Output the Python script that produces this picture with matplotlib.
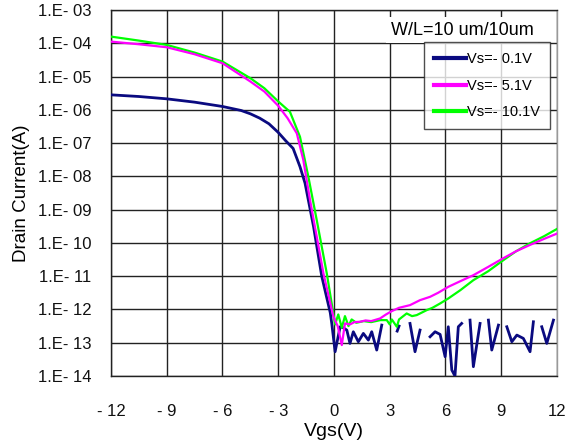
import numpy as np
import matplotlib
matplotlib.use("Agg")
import matplotlib.pyplot as plt
from matplotlib.lines import Line2D

plt.rcParams['font.family'] = ['Liberation Sans', 'DejaVu Sans']

nan = np.nan
# Vs = -0.1 V (log10 of drain current)
vgs_01 = [-12, -10.5, -9, -7.5, -6, -5, -4.5, -4, -3.5, -3, -2.6, -2.2, -1.83, -1.56, -1.1, -0.66, -0.2,
          -0.12, 0.06, 0.33, 0.50, 0.69, 0.86, 1.04, 1.31, 1.58, 1.85, 2.03, 2.30, 2.57, nan,
          3.40, 3.50, nan, 4.09, 4.36, 4.63, nan, 5.17, 5.44, 5.71, 5.98, 6.15, 6.34, 6.51, 6.69, 6.87, nan,
          7.32, 7.50, 7.86, nan, 8.31, 8.49, 8.85, nan, 9.30, 9.57, 9.84, 10.19, 10.55, 10.73, nan,
          11.18, 11.45, 11.81]
log_01 = [-5.55, -5.60, -5.67, -5.77, -5.90, -6.02, -6.12, -6.25, -6.42, -6.68, -6.93, -7.16, -7.71, -8.2, -9.51, -11.0, -12.1,
          -12.42, -13.27, -12.52, -12.55, -12.62, -13.02, -12.67, -12.97, -12.72, -12.92, -12.67, -13.22, -12.47, nan,
          -12.65, -12.50, nan, -12.42, -13.27, -12.62, nan, -12.82, -12.67, -12.75, -13.42, -12.52, -13.82, -14.0, -12.52, -12.42, nan,
          -12.32, -13.72, -12.42, nan, -12.32, -13.22, -12.47, nan, -12.52, -12.97, -12.77, -12.87, -13.27, -12.37, nan,
          -12.52, -13.02, -12.32]

# Vs = -5.1 V
vgs_51 = [-12, -10.5, -9, -7.5, -6, -4.5, -3.75, -3, -2.5, -2.0, -1.65, -1.29, -0.93, -0.57, -0.03,
          0.20, 0.42, 0.59, 0.86, 1.1, 1.40, 1.7, 2.0, 2.48, 2.8, 3.11, 3.5, 4.09, 4.63, 5.17, 5.6, 6.15,
          6.8, 7.50, 8.3, 9.11, 9.8, 10.55, 11.3, 12.0]
log_51 = [-3.95, -4.03, -4.12, -4.33, -4.60, -5.15, -5.45, -5.88, -6.25, -6.71, -7.51, -8.71, -9.81, -10.91, -12.22,
          -12.5, -13.07, -12.42, -12.45, -12.38, -12.37, -12.33, -12.35, -12.27, -12.15, -12.05, -11.95, -11.87, -11.72, -11.62, -11.50, -11.32,
          -11.15, -10.97, -10.72, -10.46, -10.25, -10.06, -9.88, -9.72]

# Vs = -10.1 V
vgs_101 = [-12, -10.5, -9, -7.5, -6, -4.5, -3.75, -3, -2.37, -1.83, -1.38, -0.93, -0.39, 0.06,
           0.23, 0.42, 0.59, 0.78, 0.95, 1.2, 1.6, 2.0, 2.5, 2.84, 3.0, 3.11, 3.38, 3.5, 3.91, 4.2, 4.45,
           4.99, 5.3, 5.71, 6.15, 6.8, 7.50, 8.3, 9.11, 9.8, 10.55, 11.3, 12.0]
log_101 = [-3.80, -3.92, -4.05, -4.28, -4.55, -5.05, -5.35, -5.75, -6.06, -6.81, -8.01, -9.31, -10.91, -12.45,
           -12.15, -12.55, -12.2, -12.5, -12.3, -12.4, -12.35, -12.38, -12.32, -12.32, -12.45, -12.3, -12.52, -12.3, -12.12, -12.2, -12.17,
           -12.02, -11.95, -11.82, -11.67, -11.42, -11.12, -10.85, -10.52, -10.25, -10.01, -9.80, -9.58]

x_ticks = [-12, -9, -6, -3, 0, 3, 6, 9, 12]
x_labels = ["- 12", "- 9", "- 6", "- 3", "0", "3", "6", "9", "12"]
y_exps = list(range(-14, -2))
y_labels = ["1.E- %02d" % (-e) for e in y_exps]

series_names = ["Vs=- 0.1V", "Vs=- 5.1V", "Vs=- 10.1V"]
colors = ["#0a0a80", "#ff00ff", "#00ff00"]

fig = plt.figure(figsize=(5.76, 4.42), dpi=100)
ax = fig.add_axes([0.1927, 0.1493, 0.967 - 0.1927, 0.9774 - 0.1493])

data = [(vgs_01, log_01), (vgs_101, log_101), (vgs_51, log_51)]
cols = [colors[0], colors[2], colors[1]]
lws = [2.0, 1.6, 1.6]
for (xv, lv), c, lw in zip(data, cols, lws):
    xv = np.array(xv, dtype=float)
    yv = 10.0 ** np.array(lv, dtype=float)
    ax.plot(xv, yv, color=c, lw=lw, zorder=3)

ax.set_yscale('log')
ax.set_xlim(-12, 12)
ax.set_ylim(1e-14, 1e-3)
ax.set_yticks([10.0 ** e for e in y_exps])
ax.set_yticklabels(y_labels)
ax.yaxis.set_minor_locator(matplotlib.ticker.NullLocator())
ax.set_xticks(x_ticks)
ax.set_xticklabels(x_labels)
ax.tick_params(axis='both', length=0, labelsize=12, colors='#111111')
ax.tick_params(axis='x', pad=20)
ax.tick_params(axis='y', pad=14)
ax.grid(True, color='#222222', lw=1.0, zorder=1)
for s in ax.spines.values():
    s.set_color('#222222')
    s.set_linewidth(1.0)
ax.spines['right'].set_color('#999999')

ax.set_xlabel("Vgs(V)", fontsize=14, labelpad=3)
ax.set_ylabel("Drain Current(A)", fontsize=13.5, labelpad=6)

ax.text(0.787, 0.945, "W/L=10 um/10um", transform=ax.transAxes, ha='center', va='center',
        fontsize=13, zorder=5,
        bbox=dict(facecolor='white', edgecolor='none', pad=3))

handles = [Line2D([0], [0], color=c, lw=3) for c in colors]
leg = ax.legend(handles, series_names, loc='upper right', bbox_to_anchor=(0.984, 0.912),
                fontsize=10.5, frameon=True, fancybox=False, edgecolor='#222222',
                handlelength=2.2, handletextpad=0.05, borderpad=0.7, labelspacing=0.85,
                borderaxespad=0)
leg.get_frame().set_linewidth(1.0)
leg.set_zorder(6)

fig.savefig("out.png", dpi=100, facecolor='white')
